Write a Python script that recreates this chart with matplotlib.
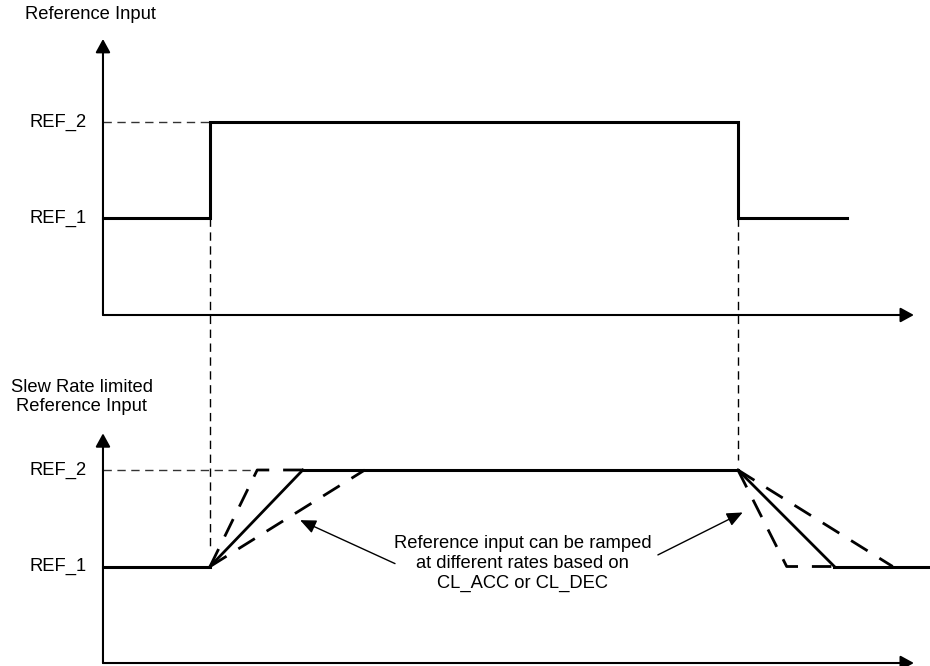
import matplotlib
matplotlib.use("Agg")
import matplotlib.pyplot as plt

plt.rcParams['font.family'] = ['Liberation Sans', 'DejaVu Sans']

# time axis (arbitrary units) and levels (REF_1 = 1, REF_2 = 2)
t_up = 2.02
t_down = 11.98
t_end_top = 14.04
t_end_bottom = 15.6
ref_levels = [1, 2]
ref_labels = ["REF_1", "REF_2"]

# reference step input
step_t = [0, t_up, t_up, t_down, t_down, t_end_top]
step_y = [1, 1, 2, 2, 1, 1]

# slew rate limited ramps: fast (dashed), nominal (solid), slow (dashed)
rise_end = [2.91, 3.77, 4.94]
fall_end = [12.9, 13.8, 14.9]

top_off = 3.606   # vertical offset of upper panel
x_max = 15.3
y_top_tip = 2.86
y_bot_tip = 2.38

fig = plt.figure(figsize=(9.3, 6.66), dpi=100)
ax = fig.add_axes([0, 0, 1, 1])
ax.set_xlim(-1.943, 15.604)
ax.set_ylim(-0.031, 6.87)
ax.axis('off')

fs = 13.2
axis_col = '#3a3a3a'
ax_kw = dict(arrowstyle='-|>,head_length=0.62,head_width=0.34', color=axis_col, lw=1.5,
             shrinkA=0, shrinkB=0, mutation_scale=13, fc='black', ec='black')

for off, tip in [(top_off, y_top_tip), (0, y_bot_tip)]:
    ax.annotate('', xy=(x_max, off), xytext=(0, off), arrowprops=ax_kw)
    ax.annotate('', xy=(0, off + tip), xytext=(0, off), arrowprops=ax_kw)
    for lvl, lab in zip(ref_levels, ref_labels):
        ax.text(-0.30, off + lvl, lab, ha='right', va='center', fontsize=fs)

# upper panel
ax.plot(step_t, [v + top_off for v in step_y], color='black', lw=2.2, solid_joinstyle='miter')
ax.plot([0, t_up], [2 + top_off, 2 + top_off], color='#333333', lw=1, ls=(0, (6, 4)))

# guide lines between panels
ax.plot([t_up, t_up], [1 + top_off, 1.2], color='black', lw=1, ls=(0, (6, 4)))
ax.plot([t_down, t_down], [1 + top_off, 2.1], color='black', lw=1, ls=(0, (6, 4)))
ax.plot([0, rise_end[0]], [2, 2], color='#333333', lw=1, ls=(0, (6, 4)))

# lower panel
ax.plot([0, t_up], [1, 1], color='black', lw=2.2)
ax.plot([rise_end[1], t_down], [2, 2], color='black', lw=2.2)
ax.plot([fall_end[1], t_end_bottom], [1, 1], color='black', lw=2.2)
ax.plot([t_up, rise_end[1]], [1, 2], color='black', lw=2.0)
ax.plot([t_down, fall_end[1]], [2, 1], color='black', lw=2.0)
dash = (0, (7, 5))
ax.plot([t_up, rise_end[0], rise_end[1]], [1, 2, 2], color='black', lw=2.0, ls=dash)
ax.plot([t_up, rise_end[2]], [1, 2], color='black', lw=2.0, ls=dash)
ax.plot([t_down, fall_end[0], fall_end[1]], [2, 1, 1], color='black', lw=2.0, ls=dash)
ax.plot([t_down, fall_end[2]], [2, 1], color='black', lw=2.0, ls=dash)

# axis titles
ax.text(-1.47, 6.72, "Reference Input", ha='left', va='center', fontsize=fs)
ax.text(-0.4, 2.76, "Slew Rate limited\nReference Input", ha='center', va='center',
        fontsize=fs, linespacing=1.15)

# annotation
ax.text(7.92, 1.03, "Reference input can be ramped\nat different rates based on\nCL_ACC or CL_DEC",
        ha='center', va='center', fontsize=fs, linespacing=1.2)
ann_kw = dict(arrowstyle='-|>,head_length=0.8,head_width=0.35', color='black', lw=1,
              shrinkA=0, shrinkB=0, mutation_scale=12)
ax.annotate('', xy=(3.72, 1.48), xytext=(5.51, 1.03), arrowprops=ann_kw)
ax.annotate('', xy=(12.07, 1.56), xytext=(10.47, 1.12), arrowprops=ann_kw)

fig.savefig("out.png", dpi=100)
